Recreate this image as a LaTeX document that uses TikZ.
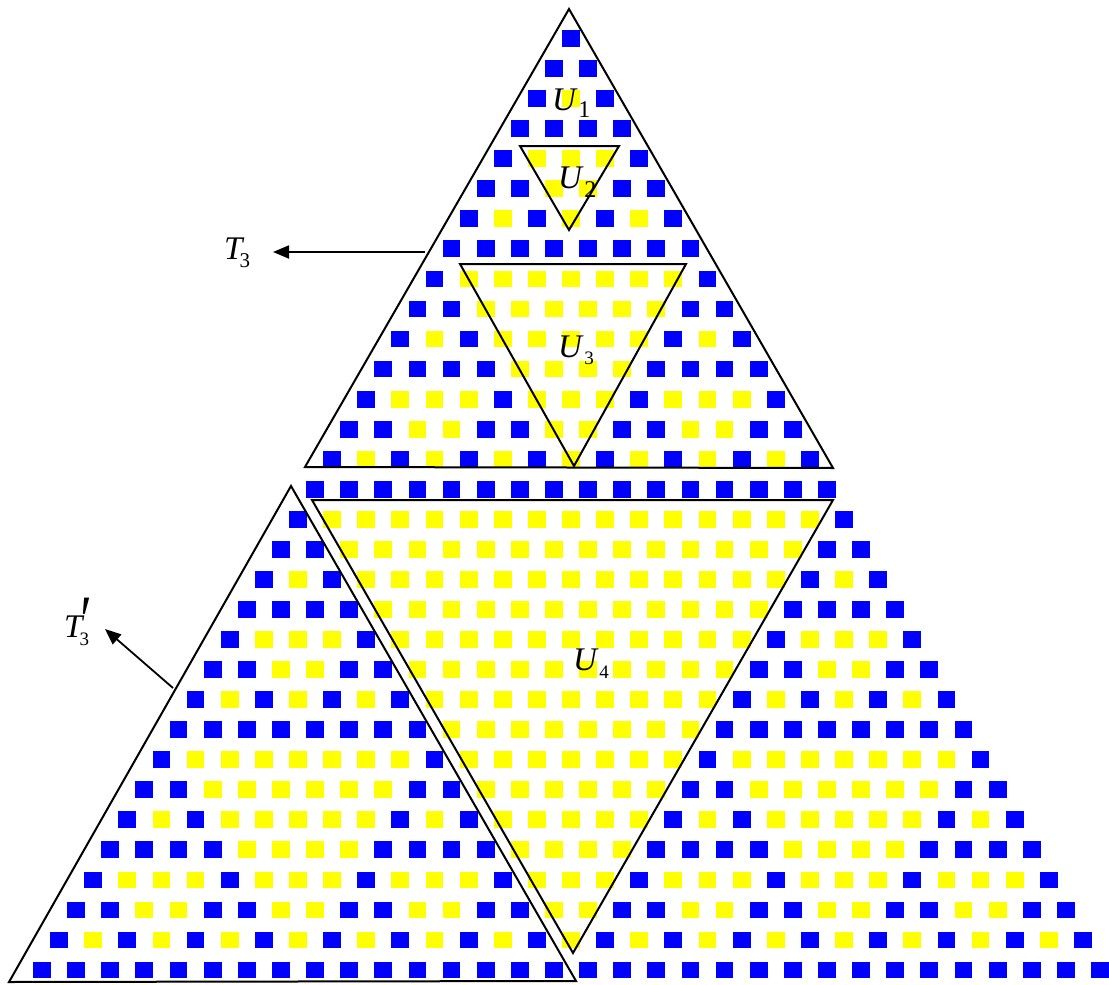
\documentclass[tikz,border=0pt]{standalone}
\usepackage{fontspec}
\setmainfont{Liberation Serif}
\usetikzlibrary{arrows.meta}
\definecolor{sqblue}{HTML}{0000FF}
\definecolor{sqyellow}{HTML}{FFFF00}
\newcommand\ulab[3]{\textit{U}\kern0.5pt\raisebox{-#3pt}{\fontsize{#2}{#2}\selectfont #1}}
\begin{document}
\begin{tikzpicture}[x=1pt,y=-1pt,
  tri/.style={draw=black,line width=2pt,line join=miter},
  arr/.style={draw=black,line width=1.8pt,-{Triangle[length=16pt,width=13pt]}},
  lab/.style={anchor=base west,inner sep=0pt,font=\fontsize{33}{33}\selectfont}]
\useasboundingbox (0,0) rectangle (1109,985);
% Pascal triangle mod 2
\foreach \n in {0,...,31}{
  \foreach \k in {0,...,\n}{
    \pgfmathtruncatemacro\odd{(1-mod(floor(\k/1),2)*(1-mod(floor(\n/1),2)))*(1-mod(floor(\k/2),2)*(1-mod(floor(\n/2),2)))*(1-mod(floor(\k/4),2)*(1-mod(floor(\n/4),2)))*(1-mod(floor(\k/8),2)*(1-mod(floor(\n/8),2)))*(1-mod(floor(\k/16),2)*(1-mod(floor(\n/16),2)))}
    \pgfmathsetmacro\cx{571+(\k-\n/2)*34.13}
    \pgfmathsetmacro\cy{38.5+\n*30.05}
    \ifnum\odd=1 \def\col{sqblue}\else\def\col{sqyellow}\fi
    \fill[\col] (\cx-8.9,\cy-8.4) rectangle (\cx+8.9,\cy+8.4);
  }
}
% triangles
\coordinate (Ta) at (569,9);
\coordinate (Tl) at (305,467);
\coordinate (Tr) at (833,468);
\draw[tri] (Ta) -- (Tl) -- (Tr) -- cycle;
\coordinate (U2l) at (520,146);
\coordinate (U2r) at (619,146);
\coordinate (U2b) at (569,230);
\draw[tri] (U2l) -- (U2r) -- (U2b) -- cycle;
\coordinate (U3l) at (460,264);
\coordinate (U3r) at (686,264);
\coordinate (U3b) at (574,466);
\draw[tri] (U3l) -- (U3r) -- (U3b) -- cycle;
\coordinate (U4l) at (312,500);
\coordinate (U4r) at (833,500);
\coordinate (U4b) at (573,953);
\draw[tri] (U4l) -- (U4r) -- (U4b) -- cycle;
\coordinate (Pa) at (291,486);
\coordinate (Pl) at (9,982);
\coordinate (Pr) at (576,981);
\draw[tri] (Pa) -- (Pl) -- (Pr) -- cycle;
% labels
\node[lab] (U1) at (552,110) {\ulab{1}{24}{7}};
\node[lab] (U2) at (558,188) {\ulab{2}{24}{9}};
\node[lab] (U3) at (558,357) {\ulab{3}{19}{7}};
\node[lab] (U4) at (573,670) {\ulab{4}{19}{8}};
\node[lab] (T3) at (224,259) {\textit{T}\kern-5pt\raisebox{-8pt}{\fontsize{21}{21}\selectfont 3}};
\node[lab] (T3p) at (64,637) {\textit{T}\kern-5pt\rlap{\raisebox{-8pt}{\fontsize{19}{19}\selectfont 3}}\kern-2pt\raisebox{-6pt}{\scalebox{1.6}[2.1]{\textit{′}}}};
% arrows
\coordinate (A1s) at (425,252);
\coordinate (A1e) at (273,252);
\draw[arr] (A1s) -- (A1e);
\coordinate (A2s) at (173,688);
\coordinate (A2e) at (105,629);
\draw[arr] (A2s) -- (A2e);
\end{tikzpicture}
\end{document}
